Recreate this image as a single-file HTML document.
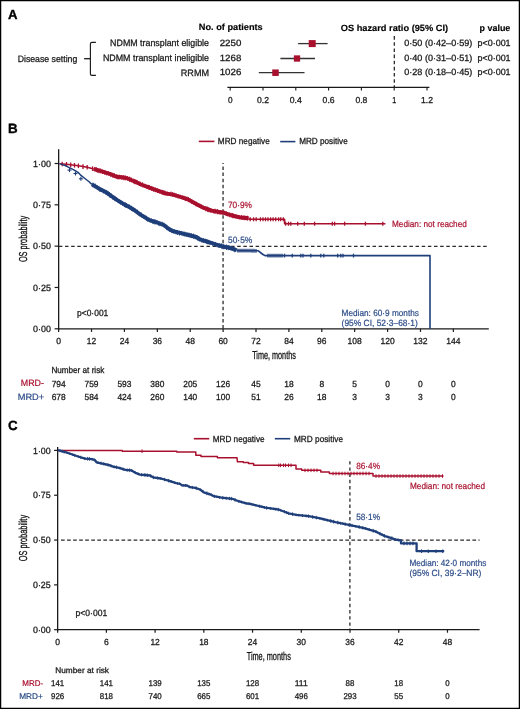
<!DOCTYPE html>
<html><head><meta charset="utf-8"><style>
html,body{margin:0;padding:0;background:#fff;}
svg{display:block;font-family:"Liberation Sans",sans-serif;will-change:transform;text-rendering:geometricPrecision;}
</style></head><body>
<svg width="520" height="709" viewBox="0 0 520 709">
<rect x="0.6" y="0.6" width="518.8" height="707.8" fill="none" stroke="#000" stroke-width="1.3"/>
<text x="7.9" y="19.3" font-size="13.2" font-weight="bold" fill="#000" stroke="#000" stroke-width="0.35">A</text>
<text x="198.80" y="30.35" font-size="9.0" fill="#000" font-weight="bold" textLength="63.90" lengthAdjust="spacingAndGlyphs" stroke="#000" stroke-width="0.15">No. of patients</text>
<text x="340.80" y="30.75" font-size="9.0" fill="#000" font-weight="bold" textLength="107.30" lengthAdjust="spacingAndGlyphs" stroke="#000" stroke-width="0.15">OS hazard ratio (95% CI)</text>
<text x="479.60" y="30.65" font-size="9.0" fill="#000" font-weight="bold" textLength="30.70" lengthAdjust="spacingAndGlyphs" stroke="#000" stroke-width="0.15">p value</text>
<text x="17.70" y="61.92" font-size="9.2" fill="#1a1a1a" font-weight="normal" textLength="59.60" lengthAdjust="spacingAndGlyphs" stroke="#1a1a1a" stroke-width="0.28">Disease setting</text>
<path d="M95.9,42.4 H92.0 Q90.4,42.4 90.4,44.0 V73.7 Q90.4,75.3 92.0,75.3 H95.9" fill="none" stroke="#1a1a1a" stroke-width="1.15"/>
<line x1="84.10" y1="58.70" x2="90.40" y2="58.70" stroke="#1a1a1a" stroke-width="1.3"/>
<text x="110.10" y="46.09" font-size="9.4" fill="#1a1a1a" font-weight="normal" textLength="98.90" lengthAdjust="spacingAndGlyphs" stroke="#1a1a1a" stroke-width="0.28">NDMM transplant eligible</text>
<text x="219.70" y="45.95" font-size="9.0" fill="#1a1a1a" font-weight="normal" textLength="21.60" lengthAdjust="spacingAndGlyphs" stroke="#1a1a1a" stroke-width="0.28">2250</text>
<text x="404.20" y="45.95" font-size="9.0" fill="#1a1a1a" font-weight="normal" textLength="68.20" lengthAdjust="spacingAndGlyphs" stroke="#1a1a1a" stroke-width="0.28">0·50 (0·42–0·59)</text>
<text x="477.50" y="45.95" font-size="9.0" fill="#1a1a1a" font-weight="normal" textLength="33.10" lengthAdjust="spacingAndGlyphs" stroke="#1a1a1a" stroke-width="0.28">p&lt;0·001</text>
<text x="102.90" y="61.09" font-size="9.4" fill="#1a1a1a" font-weight="normal" textLength="106.10" lengthAdjust="spacingAndGlyphs" stroke="#1a1a1a" stroke-width="0.28">NDMM transplant ineligible</text>
<text x="219.70" y="60.95" font-size="9.0" fill="#1a1a1a" font-weight="normal" textLength="21.60" lengthAdjust="spacingAndGlyphs" stroke="#1a1a1a" stroke-width="0.28">1268</text>
<text x="404.20" y="60.95" font-size="9.0" fill="#1a1a1a" font-weight="normal" textLength="68.20" lengthAdjust="spacingAndGlyphs" stroke="#1a1a1a" stroke-width="0.28">0·40 (0·31–0·51)</text>
<text x="477.50" y="60.95" font-size="9.0" fill="#1a1a1a" font-weight="normal" textLength="33.10" lengthAdjust="spacingAndGlyphs" stroke="#1a1a1a" stroke-width="0.28">p&lt;0·001</text>
<text x="180.80" y="75.59" font-size="9.4" fill="#1a1a1a" font-weight="normal" textLength="28.20" lengthAdjust="spacingAndGlyphs" stroke="#1a1a1a" stroke-width="0.28">RRMM</text>
<text x="219.70" y="75.45" font-size="9.0" fill="#1a1a1a" font-weight="normal" textLength="21.60" lengthAdjust="spacingAndGlyphs" stroke="#1a1a1a" stroke-width="0.28">1026</text>
<text x="404.20" y="75.45" font-size="9.0" fill="#1a1a1a" font-weight="normal" textLength="68.20" lengthAdjust="spacingAndGlyphs" stroke="#1a1a1a" stroke-width="0.28">0·28 (0·18–0·45)</text>
<text x="477.50" y="75.45" font-size="9.0" fill="#1a1a1a" font-weight="normal" textLength="33.10" lengthAdjust="spacingAndGlyphs" stroke="#1a1a1a" stroke-width="0.28">p&lt;0·001</text>
<line x1="298.10" y1="43.60" x2="327.60" y2="43.60" stroke="#333" stroke-width="1.3"/>
<rect x="308.70" y="40.10" width="7.0" height="7.0" fill="#a8102e"/>
<line x1="280.40" y1="58.50" x2="315.00" y2="58.50" stroke="#333" stroke-width="1.3"/>
<rect x="293.85" y="55.35" width="6.3" height="6.3" fill="#a8102e"/>
<line x1="258.80" y1="72.70" x2="304.50" y2="72.70" stroke="#333" stroke-width="1.3"/>
<rect x="272.25" y="69.45" width="6.5" height="6.5" fill="#a8102e"/>
<line x1="227.40" y1="87.40" x2="429.40" y2="87.40" stroke="#1a1a1a" stroke-width="1.2"/>
<line x1="230.20" y1="87.40" x2="230.20" y2="90.60" stroke="#1a1a1a" stroke-width="1.1"/>
<text x="227.90" y="102.51" font-size="8.6" fill="#1a1a1a" font-weight="normal" textLength="4.60" lengthAdjust="spacingAndGlyphs" stroke="#1a1a1a" stroke-width="0.28">0</text>
<line x1="263.00" y1="87.40" x2="263.00" y2="90.60" stroke="#1a1a1a" stroke-width="1.1"/>
<text x="257.00" y="102.51" font-size="8.6" fill="#1a1a1a" font-weight="normal" textLength="12.00" lengthAdjust="spacingAndGlyphs" stroke="#1a1a1a" stroke-width="0.28">0.2</text>
<line x1="295.80" y1="87.40" x2="295.80" y2="90.60" stroke="#1a1a1a" stroke-width="1.1"/>
<text x="289.80" y="102.51" font-size="8.6" fill="#1a1a1a" font-weight="normal" textLength="12.00" lengthAdjust="spacingAndGlyphs" stroke="#1a1a1a" stroke-width="0.28">0.4</text>
<line x1="328.60" y1="87.40" x2="328.60" y2="90.60" stroke="#1a1a1a" stroke-width="1.1"/>
<text x="322.60" y="102.51" font-size="8.6" fill="#1a1a1a" font-weight="normal" textLength="12.00" lengthAdjust="spacingAndGlyphs" stroke="#1a1a1a" stroke-width="0.28">0.6</text>
<line x1="361.40" y1="87.40" x2="361.40" y2="90.60" stroke="#1a1a1a" stroke-width="1.1"/>
<text x="355.40" y="102.51" font-size="8.6" fill="#1a1a1a" font-weight="normal" textLength="12.00" lengthAdjust="spacingAndGlyphs" stroke="#1a1a1a" stroke-width="0.28">0.8</text>
<line x1="394.20" y1="87.40" x2="394.20" y2="90.60" stroke="#1a1a1a" stroke-width="1.1"/>
<text x="392.20" y="102.51" font-size="8.6" fill="#1a1a1a" font-weight="normal" textLength="4.00" lengthAdjust="spacingAndGlyphs" stroke="#1a1a1a" stroke-width="0.28">1</text>
<line x1="427.00" y1="87.40" x2="427.00" y2="90.60" stroke="#1a1a1a" stroke-width="1.1"/>
<text x="421.00" y="102.51" font-size="8.6" fill="#1a1a1a" font-weight="normal" textLength="12.00" lengthAdjust="spacingAndGlyphs" stroke="#1a1a1a" stroke-width="0.28">1.2</text>
<line x1="394.30" y1="36.10" x2="394.30" y2="87.30" stroke="#1a1a1a" stroke-width="1.2" stroke-dasharray="3.6 2.55"/>
<text x="8.1" y="132.9" font-size="13.4" font-weight="bold" fill="#000" stroke="#000" stroke-width="0.35">B</text>
<line x1="198.80" y1="141.40" x2="214.40" y2="141.40" stroke="#a8102e" stroke-width="1.6"/>
<text x="217.80" y="144.28" font-size="8.8" fill="#1a1a1a" font-weight="normal" textLength="52.00" lengthAdjust="spacingAndGlyphs" stroke="#1a1a1a" stroke-width="0.28">MRD negative</text>
<line x1="280.20" y1="141.60" x2="295.40" y2="141.60" stroke="#1f3f7a" stroke-width="1.6"/>
<text x="299.20" y="144.48" font-size="8.8" fill="#1a1a1a" font-weight="normal" textLength="48.50" lengthAdjust="spacingAndGlyphs" stroke="#1a1a1a" stroke-width="0.28">MRD positive</text>
<line x1="58.65" y1="149.20" x2="58.65" y2="329.40" stroke="#1a1a1a" stroke-width="1.3"/>
<line x1="58.00" y1="328.80" x2="488.80" y2="328.80" stroke="#1a1a1a" stroke-width="1.3"/>
<line x1="54.60" y1="163.50" x2="58.65" y2="163.50" stroke="#1a1a1a" stroke-width="1.2"/>
<text x="33.00" y="166.65" font-size="9.0" fill="#1a1a1a" font-weight="normal" textLength="17.90" lengthAdjust="spacingAndGlyphs" stroke="#1a1a1a" stroke-width="0.28">1·00</text>
<line x1="54.60" y1="204.82" x2="58.65" y2="204.82" stroke="#1a1a1a" stroke-width="1.2"/>
<text x="33.00" y="207.97" font-size="9.0" fill="#1a1a1a" font-weight="normal" textLength="17.90" lengthAdjust="spacingAndGlyphs" stroke="#1a1a1a" stroke-width="0.28">0·75</text>
<line x1="54.60" y1="246.15" x2="58.65" y2="246.15" stroke="#1a1a1a" stroke-width="1.2"/>
<text x="33.00" y="249.30" font-size="9.0" fill="#1a1a1a" font-weight="normal" textLength="17.90" lengthAdjust="spacingAndGlyphs" stroke="#1a1a1a" stroke-width="0.28">0·50</text>
<line x1="54.60" y1="287.48" x2="58.65" y2="287.48" stroke="#1a1a1a" stroke-width="1.2"/>
<text x="33.00" y="290.62" font-size="9.0" fill="#1a1a1a" font-weight="normal" textLength="17.90" lengthAdjust="spacingAndGlyphs" stroke="#1a1a1a" stroke-width="0.28">0·25</text>
<line x1="54.60" y1="328.80" x2="58.65" y2="328.80" stroke="#1a1a1a" stroke-width="1.2"/>
<text x="33.00" y="331.95" font-size="9.0" fill="#1a1a1a" font-weight="normal" textLength="17.90" lengthAdjust="spacingAndGlyphs" stroke="#1a1a1a" stroke-width="0.28">0·00</text>
<line x1="58.65" y1="328.80" x2="58.65" y2="331.90" stroke="#1a1a1a" stroke-width="1.2"/>
<text x="56.25" y="344.38" font-size="8.8" fill="#1a1a1a" font-weight="normal" textLength="4.80" lengthAdjust="spacingAndGlyphs" stroke="#1a1a1a" stroke-width="0.28">0</text>
<line x1="91.54" y1="328.80" x2="91.54" y2="331.90" stroke="#1a1a1a" stroke-width="1.2"/>
<text x="86.84" y="344.38" font-size="8.8" fill="#1a1a1a" font-weight="normal" textLength="9.40" lengthAdjust="spacingAndGlyphs" stroke="#1a1a1a" stroke-width="0.28">12</text>
<line x1="124.43" y1="328.80" x2="124.43" y2="331.90" stroke="#1a1a1a" stroke-width="1.2"/>
<text x="119.73" y="344.38" font-size="8.8" fill="#1a1a1a" font-weight="normal" textLength="9.40" lengthAdjust="spacingAndGlyphs" stroke="#1a1a1a" stroke-width="0.28">24</text>
<line x1="157.33" y1="328.80" x2="157.33" y2="331.90" stroke="#1a1a1a" stroke-width="1.2"/>
<text x="152.63" y="344.38" font-size="8.8" fill="#1a1a1a" font-weight="normal" textLength="9.40" lengthAdjust="spacingAndGlyphs" stroke="#1a1a1a" stroke-width="0.28">36</text>
<line x1="190.22" y1="328.80" x2="190.22" y2="331.90" stroke="#1a1a1a" stroke-width="1.2"/>
<text x="185.52" y="344.38" font-size="8.8" fill="#1a1a1a" font-weight="normal" textLength="9.40" lengthAdjust="spacingAndGlyphs" stroke="#1a1a1a" stroke-width="0.28">48</text>
<line x1="223.11" y1="328.80" x2="223.11" y2="331.90" stroke="#1a1a1a" stroke-width="1.2"/>
<text x="218.41" y="344.38" font-size="8.8" fill="#1a1a1a" font-weight="normal" textLength="9.40" lengthAdjust="spacingAndGlyphs" stroke="#1a1a1a" stroke-width="0.28">60</text>
<line x1="256.00" y1="328.80" x2="256.00" y2="331.90" stroke="#1a1a1a" stroke-width="1.2"/>
<text x="251.30" y="344.38" font-size="8.8" fill="#1a1a1a" font-weight="normal" textLength="9.40" lengthAdjust="spacingAndGlyphs" stroke="#1a1a1a" stroke-width="0.28">72</text>
<line x1="288.89" y1="328.80" x2="288.89" y2="331.90" stroke="#1a1a1a" stroke-width="1.2"/>
<text x="284.19" y="344.38" font-size="8.8" fill="#1a1a1a" font-weight="normal" textLength="9.40" lengthAdjust="spacingAndGlyphs" stroke="#1a1a1a" stroke-width="0.28">84</text>
<line x1="321.79" y1="328.80" x2="321.79" y2="331.90" stroke="#1a1a1a" stroke-width="1.2"/>
<text x="317.09" y="344.38" font-size="8.8" fill="#1a1a1a" font-weight="normal" textLength="9.40" lengthAdjust="spacingAndGlyphs" stroke="#1a1a1a" stroke-width="0.28">96</text>
<line x1="354.68" y1="328.80" x2="354.68" y2="331.90" stroke="#1a1a1a" stroke-width="1.2"/>
<text x="347.58" y="344.38" font-size="8.8" fill="#1a1a1a" font-weight="normal" textLength="14.20" lengthAdjust="spacingAndGlyphs" stroke="#1a1a1a" stroke-width="0.28">108</text>
<line x1="387.57" y1="328.80" x2="387.57" y2="331.90" stroke="#1a1a1a" stroke-width="1.2"/>
<text x="380.47" y="344.38" font-size="8.8" fill="#1a1a1a" font-weight="normal" textLength="14.20" lengthAdjust="spacingAndGlyphs" stroke="#1a1a1a" stroke-width="0.28">120</text>
<line x1="420.46" y1="328.80" x2="420.46" y2="331.90" stroke="#1a1a1a" stroke-width="1.2"/>
<text x="413.36" y="344.38" font-size="8.8" fill="#1a1a1a" font-weight="normal" textLength="14.20" lengthAdjust="spacingAndGlyphs" stroke="#1a1a1a" stroke-width="0.28">132</text>
<line x1="453.35" y1="328.80" x2="453.35" y2="331.90" stroke="#1a1a1a" stroke-width="1.2"/>
<text x="446.25" y="344.38" font-size="8.8" fill="#1a1a1a" font-weight="normal" textLength="14.20" lengthAdjust="spacingAndGlyphs" stroke="#1a1a1a" stroke-width="0.28">144</text>
<text x="252.20" y="358.60" font-size="11.5" fill="#111" font-weight="normal" textLength="43.60" lengthAdjust="spacingAndGlyphs" stroke="#111" stroke-width="0.3">Time, months</text>
<g transform="translate(27.4,262.1) rotate(-90)"><text x="0" y="0" font-size="11.5" fill="#111" stroke="#111" stroke-width="0.3" textLength="46.2" lengthAdjust="spacingAndGlyphs">OS probability</text></g>
<text x="77.00" y="316.15" font-size="9.0" fill="#1a1a1a" font-weight="normal" textLength="31.30" lengthAdjust="spacingAndGlyphs" stroke="#1a1a1a" stroke-width="0.28">p&lt;0·001</text>
<line x1="58.85" y1="246.30" x2="488.80" y2="246.30" stroke="#2a2a2a" stroke-width="1.3" stroke-dasharray="3.5 2.65"/>
<line x1="223.06" y1="163.1" x2="223.06" y2="328.8" stroke="#2a2a2a" stroke-width="1.3" stroke-dasharray="3.5 2.6" stroke-dashoffset="2.7"/>
<text x="228.00" y="208.25" font-size="9.0" fill="#a8102e" font-weight="normal" textLength="24.00" lengthAdjust="spacingAndGlyphs" stroke="#a8102e" stroke-width="0.2">70·9%</text>
<text x="228.00" y="242.55" font-size="9.0" fill="#2c4c88" font-weight="normal" textLength="24.30" lengthAdjust="spacingAndGlyphs" stroke="#2c4c88" stroke-width="0.2">50·5%</text>
<text x="392.00" y="227.35" font-size="9.0" fill="#a8102e" font-weight="normal" textLength="74.80" lengthAdjust="spacingAndGlyphs" stroke="#a8102e" stroke-width="0.2">Median: not reached</text>
<text x="341.60" y="316.25" font-size="9.0" fill="#2c4c88" font-weight="normal" textLength="77.30" lengthAdjust="spacingAndGlyphs" stroke="#2c4c88" stroke-width="0.2">Median: 60·9 months</text>
<text x="341.60" y="325.95" font-size="9.0" fill="#2c4c88" font-weight="normal" textLength="76.20" lengthAdjust="spacingAndGlyphs" stroke="#2c4c88" stroke-width="0.2">(95% CI, 52·3–68·1)</text>
<text x="51.40" y="372.88" font-size="8.8" fill="#1a1a1a" font-weight="normal" textLength="52.90" lengthAdjust="spacingAndGlyphs" stroke="#1a1a1a" stroke-width="0.28">Number at risk</text>
<text x="20.80" y="386.42" font-size="9.2" fill="#a8102e" font-weight="normal" textLength="23.20" lengthAdjust="spacingAndGlyphs" stroke="#a8102e" stroke-width="0.2">MRD-</text>
<text x="17.70" y="399.72" font-size="9.2" fill="#2c4c88" font-weight="normal" textLength="26.50" lengthAdjust="spacingAndGlyphs" stroke="#2c4c88" stroke-width="0.2">MRD+</text>
<text x="51.65" y="386.58" font-size="8.8" fill="#1a1a1a" font-weight="normal" textLength="14.00" lengthAdjust="spacingAndGlyphs" stroke="#1a1a1a" stroke-width="0.28">794</text>
<text x="51.65" y="400.28" font-size="8.8" fill="#1a1a1a" font-weight="normal" textLength="14.00" lengthAdjust="spacingAndGlyphs" stroke="#1a1a1a" stroke-width="0.28">678</text>
<text x="84.54" y="386.58" font-size="8.8" fill="#1a1a1a" font-weight="normal" textLength="14.00" lengthAdjust="spacingAndGlyphs" stroke="#1a1a1a" stroke-width="0.28">759</text>
<text x="84.54" y="400.28" font-size="8.8" fill="#1a1a1a" font-weight="normal" textLength="14.00" lengthAdjust="spacingAndGlyphs" stroke="#1a1a1a" stroke-width="0.28">584</text>
<text x="117.43" y="386.58" font-size="8.8" fill="#1a1a1a" font-weight="normal" textLength="14.00" lengthAdjust="spacingAndGlyphs" stroke="#1a1a1a" stroke-width="0.28">593</text>
<text x="117.43" y="400.28" font-size="8.8" fill="#1a1a1a" font-weight="normal" textLength="14.00" lengthAdjust="spacingAndGlyphs" stroke="#1a1a1a" stroke-width="0.28">424</text>
<text x="150.33" y="386.58" font-size="8.8" fill="#1a1a1a" font-weight="normal" textLength="14.00" lengthAdjust="spacingAndGlyphs" stroke="#1a1a1a" stroke-width="0.28">380</text>
<text x="150.33" y="400.28" font-size="8.8" fill="#1a1a1a" font-weight="normal" textLength="14.00" lengthAdjust="spacingAndGlyphs" stroke="#1a1a1a" stroke-width="0.28">260</text>
<text x="183.22" y="386.58" font-size="8.8" fill="#1a1a1a" font-weight="normal" textLength="14.00" lengthAdjust="spacingAndGlyphs" stroke="#1a1a1a" stroke-width="0.28">205</text>
<text x="183.22" y="400.28" font-size="8.8" fill="#1a1a1a" font-weight="normal" textLength="14.00" lengthAdjust="spacingAndGlyphs" stroke="#1a1a1a" stroke-width="0.28">140</text>
<text x="216.11" y="386.58" font-size="8.8" fill="#1a1a1a" font-weight="normal" textLength="14.00" lengthAdjust="spacingAndGlyphs" stroke="#1a1a1a" stroke-width="0.28">126</text>
<text x="216.11" y="400.28" font-size="8.8" fill="#1a1a1a" font-weight="normal" textLength="14.00" lengthAdjust="spacingAndGlyphs" stroke="#1a1a1a" stroke-width="0.28">100</text>
<text x="251.30" y="386.58" font-size="8.8" fill="#1a1a1a" font-weight="normal" textLength="9.40" lengthAdjust="spacingAndGlyphs" stroke="#1a1a1a" stroke-width="0.28">45</text>
<text x="251.30" y="400.28" font-size="8.8" fill="#1a1a1a" font-weight="normal" textLength="9.40" lengthAdjust="spacingAndGlyphs" stroke="#1a1a1a" stroke-width="0.28">51</text>
<text x="284.19" y="386.58" font-size="8.8" fill="#1a1a1a" font-weight="normal" textLength="9.40" lengthAdjust="spacingAndGlyphs" stroke="#1a1a1a" stroke-width="0.28">18</text>
<text x="284.19" y="400.28" font-size="8.8" fill="#1a1a1a" font-weight="normal" textLength="9.40" lengthAdjust="spacingAndGlyphs" stroke="#1a1a1a" stroke-width="0.28">26</text>
<text x="319.44" y="386.58" font-size="8.8" fill="#1a1a1a" font-weight="normal" textLength="4.70" lengthAdjust="spacingAndGlyphs" stroke="#1a1a1a" stroke-width="0.28">8</text>
<text x="317.09" y="400.28" font-size="8.8" fill="#1a1a1a" font-weight="normal" textLength="9.40" lengthAdjust="spacingAndGlyphs" stroke="#1a1a1a" stroke-width="0.28">18</text>
<text x="352.33" y="386.58" font-size="8.8" fill="#1a1a1a" font-weight="normal" textLength="4.70" lengthAdjust="spacingAndGlyphs" stroke="#1a1a1a" stroke-width="0.28">5</text>
<text x="352.33" y="400.28" font-size="8.8" fill="#1a1a1a" font-weight="normal" textLength="4.70" lengthAdjust="spacingAndGlyphs" stroke="#1a1a1a" stroke-width="0.28">3</text>
<text x="385.22" y="386.58" font-size="8.8" fill="#1a1a1a" font-weight="normal" textLength="4.70" lengthAdjust="spacingAndGlyphs" stroke="#1a1a1a" stroke-width="0.28">0</text>
<text x="385.22" y="400.28" font-size="8.8" fill="#1a1a1a" font-weight="normal" textLength="4.70" lengthAdjust="spacingAndGlyphs" stroke="#1a1a1a" stroke-width="0.28">3</text>
<text x="418.11" y="386.58" font-size="8.8" fill="#1a1a1a" font-weight="normal" textLength="4.70" lengthAdjust="spacingAndGlyphs" stroke="#1a1a1a" stroke-width="0.28">0</text>
<text x="418.11" y="400.28" font-size="8.8" fill="#1a1a1a" font-weight="normal" textLength="4.70" lengthAdjust="spacingAndGlyphs" stroke="#1a1a1a" stroke-width="0.28">3</text>
<text x="451.00" y="386.58" font-size="8.8" fill="#1a1a1a" font-weight="normal" textLength="4.70" lengthAdjust="spacingAndGlyphs" stroke="#1a1a1a" stroke-width="0.28">0</text>
<text x="451.00" y="400.28" font-size="8.8" fill="#1a1a1a" font-weight="normal" textLength="4.70" lengthAdjust="spacingAndGlyphs" stroke="#1a1a1a" stroke-width="0.28">0</text>
<path d="M59.50,163.70 L66.50,164.30 L78.40,165.80 L87.20,167.30 L93.70,168.90" fill="none" stroke="#a8102e" stroke-width="1.5" stroke-linejoin="round" stroke-linecap="butt"/>
<line x1="62.20" y1="161.63" x2="62.20" y2="166.23" stroke="#a8102e" stroke-width="1.3"/>
<line x1="66.50" y1="162.00" x2="66.50" y2="166.60" stroke="#a8102e" stroke-width="1.3"/>
<line x1="70.70" y1="162.53" x2="70.70" y2="167.13" stroke="#a8102e" stroke-width="1.3"/>
<line x1="74.50" y1="163.01" x2="74.50" y2="167.61" stroke="#a8102e" stroke-width="1.3"/>
<line x1="78.40" y1="163.50" x2="78.40" y2="168.10" stroke="#a8102e" stroke-width="1.3"/>
<line x1="83.00" y1="164.28" x2="83.00" y2="168.88" stroke="#a8102e" stroke-width="1.3"/>
<line x1="87.20" y1="165.00" x2="87.20" y2="169.60" stroke="#a8102e" stroke-width="1.3"/>
<line x1="92.60" y1="166.33" x2="92.60" y2="170.93" stroke="#a8102e" stroke-width="1.3"/>
<path d="M93.70,168.90 L101.80,171.40 L109.80,173.90 L116.60,176.80 L121.50,177.30 L126.00,178.00 L130.00,179.40 L134.00,181.30 L137.00,182.40 L140.40,184.20 L151.90,188.60 L157.70,190.70 L165.40,193.30 L173.00,194.60 L180.80,197.00 L188.50,199.60 L196.20,204.00 L203.80,207.90 L211.50,210.70 L219.20,212.00 L222.90,212.40 L226.90,213.80 L233.60,215.90 L240.40,217.50 L248.70,218.20" fill="none" stroke="#a8102e" stroke-width="3.9" stroke-linejoin="round" stroke-linecap="butt"/>
<path d="M95.00,167.21 V171.64 M96.52,167.39 V172.17 M97.61,168.20 V172.68 M98.97,168.44 V173.22 M100.63,168.47 V173.32 M102.53,169.61 V174.03 M104.74,170.00 V174.81 M106.68,170.97 V175.43 M108.51,171.36 V175.42 M110.72,172.01 V176.77 M112.95,172.77 V177.88 M114.50,173.37 V178.16 M116.81,174.22 V178.80 M118.00,174.87 V179.62 M119.61,174.71 V179.25 M121.32,175.07 V179.46 M123.14,175.19 V180.18 M125.10,175.22 V180.44 M127.49,176.08 V180.55 M129.69,176.62 V181.92 M131.49,177.64 V182.18 M133.65,178.78 V183.26 M134.74,178.99 V184.26 M135.86,179.44 V184.21 M137.08,180.30 V184.96 M139.30,181.68 V186.01 M140.36,181.70 V186.34 M142.59,182.35 V187.34 M144.99,183.81 V187.92 M146.83,184.74 V188.72 M148.40,184.87 V189.29 M149.46,185.07 V189.82 M151.80,185.95 V190.77 M153.45,186.84 V191.58 M155.28,187.48 V192.22 M157.60,188.36 V192.91 M159.61,189.25 V193.49 M161.98,189.83 V194.48 M162.99,190.25 V194.85 M164.02,190.44 V195.24 M165.10,190.80 V195.47 M167.06,191.40 V196.05 M169.09,192.01 V195.88 M171.04,191.59 V196.36 M172.67,192.17 V196.70 M174.18,192.81 V197.16 M176.02,193.39 V197.73 M178.10,194.25 V198.52 M180.13,194.65 V198.87 M182.25,195.40 V199.54 M183.86,195.58 V200.02 M185.31,196.36 V201.09 M186.93,196.48 V201.10 M188.40,197.15 V202.17 M190.03,198.39 V202.47 M191.77,199.42 V204.02 M193.95,200.66 V204.83 M196.08,201.52 V206.47 M197.56,202.69 V206.83 M199.67,203.66 V207.96 M201.25,204.36 V208.82 M203.54,205.74 V209.67 M205.86,206.05 V211.34 M207.47,206.58 V211.88 M208.78,207.22 V212.28 M210.71,208.10 V212.54 M212.19,208.73 V212.77 M214.01,208.99 V213.67 M215.08,208.68 V213.76 M217.37,209.07 V214.31 M219.18,210.09 V214.49 M220.42,209.99 V214.56 M222.15,210.09 V214.97 M224.01,210.62 V214.89 M226.22,211.28 V216.09 M227.71,212.00 V216.38 M229.85,212.69 V217.26 M232.14,212.90 V218.00 M233.15,213.36 V218.35 M234.22,213.93 V218.16 M235.96,214.22 V218.73 M238.05,215.05 V218.89 M239.23,215.22 V219.18 M241.59,215.02 V219.57 M243.29,215.59 V219.90 M244.78,215.45 V220.24 M246.29,215.94 V220.16 M247.46,215.75 V220.57" stroke="#a8102e" stroke-width="1.0" fill="none"/>
<path d="M248.70,218.40 L249.50,219.30 L284.60,219.30 L284.60,223.70 L385.40,223.70" fill="none" stroke="#a8102e" stroke-width="1.6" stroke-linejoin="round" stroke-linecap="butt"/>
<line x1="250.20" y1="217.30" x2="250.20" y2="221.30" stroke="#a8102e" stroke-width="1.3"/>
<line x1="253.60" y1="217.30" x2="253.60" y2="221.30" stroke="#a8102e" stroke-width="1.3"/>
<line x1="256.20" y1="217.30" x2="256.20" y2="221.30" stroke="#a8102e" stroke-width="1.3"/>
<line x1="260.40" y1="217.30" x2="260.40" y2="221.30" stroke="#a8102e" stroke-width="1.3"/>
<line x1="263.00" y1="217.30" x2="263.00" y2="221.30" stroke="#a8102e" stroke-width="1.3"/>
<line x1="265.50" y1="217.30" x2="265.50" y2="221.30" stroke="#a8102e" stroke-width="1.3"/>
<line x1="268.00" y1="217.30" x2="268.00" y2="221.30" stroke="#a8102e" stroke-width="1.3"/>
<line x1="270.60" y1="217.30" x2="270.60" y2="221.30" stroke="#a8102e" stroke-width="1.3"/>
<line x1="273.10" y1="217.30" x2="273.10" y2="221.30" stroke="#a8102e" stroke-width="1.3"/>
<line x1="275.70" y1="217.30" x2="275.70" y2="221.30" stroke="#a8102e" stroke-width="1.3"/>
<line x1="278.60" y1="217.30" x2="278.60" y2="221.30" stroke="#a8102e" stroke-width="1.3"/>
<line x1="280.70" y1="217.30" x2="280.70" y2="221.30" stroke="#a8102e" stroke-width="1.3"/>
<line x1="283.30" y1="217.30" x2="283.30" y2="221.30" stroke="#a8102e" stroke-width="1.3"/>
<line x1="285.60" y1="221.70" x2="285.60" y2="225.70" stroke="#a8102e" stroke-width="1.3"/>
<line x1="288.50" y1="221.70" x2="288.50" y2="225.70" stroke="#a8102e" stroke-width="1.3"/>
<line x1="290.80" y1="221.70" x2="290.80" y2="225.70" stroke="#a8102e" stroke-width="1.3"/>
<line x1="297.70" y1="221.70" x2="297.70" y2="225.70" stroke="#a8102e" stroke-width="1.3"/>
<line x1="304.30" y1="221.70" x2="304.30" y2="225.70" stroke="#a8102e" stroke-width="1.3"/>
<line x1="314.60" y1="221.70" x2="314.60" y2="225.70" stroke="#a8102e" stroke-width="1.3"/>
<line x1="332.30" y1="221.70" x2="332.30" y2="225.70" stroke="#a8102e" stroke-width="1.3"/>
<line x1="334.60" y1="221.70" x2="334.60" y2="225.70" stroke="#a8102e" stroke-width="1.3"/>
<line x1="344.60" y1="221.70" x2="344.60" y2="225.70" stroke="#a8102e" stroke-width="1.3"/>
<line x1="365.40" y1="221.70" x2="365.40" y2="225.70" stroke="#a8102e" stroke-width="1.3"/>
<line x1="382.80" y1="221.70" x2="382.80" y2="225.70" stroke="#a8102e" stroke-width="1.3"/>
<path d="M59.50,163.60 L65.70,165.80 L73.40,169.60 L78.00,172.30 L81.00,175.40 L84.90,178.50 L88.80,181.50 L91.80,184.40" fill="none" stroke="#1f3f7a" stroke-width="1.5" stroke-linejoin="round" stroke-linecap="butt"/>
<line x1="67.50" y1="170.10" x2="71.50" y2="170.10" stroke="#1f3f7a" stroke-width="1.1"/>
<line x1="69.50" y1="168.10" x2="69.50" y2="172.10" stroke="#1f3f7a" stroke-width="1.1"/>
<line x1="73.50" y1="173.50" x2="77.50" y2="173.50" stroke="#1f3f7a" stroke-width="1.1"/>
<line x1="75.50" y1="171.50" x2="75.50" y2="175.50" stroke="#1f3f7a" stroke-width="1.1"/>
<line x1="78.90" y1="178.80" x2="82.90" y2="178.80" stroke="#1f3f7a" stroke-width="1.1"/>
<line x1="80.90" y1="176.80" x2="80.90" y2="180.80" stroke="#1f3f7a" stroke-width="1.1"/>
<path d="M91.80,184.40 L96.40,186.90 L100.00,189.30 L105.80,192.10 L111.50,196.20 L117.30,200.20 L123.10,203.70 L128.80,206.80 L134.60,210.20 L140.40,214.60 L146.20,218.10 L150.00,220.40 L157.70,222.70 L163.80,225.00 L168.50,228.80 L173.00,231.20 L180.80,233.20 L188.50,235.00 L196.20,237.00 L200.00,239.50 L203.80,240.70 L211.50,243.00 L219.20,245.50 L222.90,246.40 L226.90,247.30 L230.00,247.80 L233.60,249.10 L236.70,250.30" fill="none" stroke="#1f3f7a" stroke-width="3.9" stroke-linejoin="round" stroke-linecap="butt"/>
<path d="M93.00,182.65 V187.55 M95.11,183.55 V188.69 M97.40,185.65 V189.84 M99.73,186.70 V191.74 M100.88,187.45 V191.82 M102.64,188.22 V192.49 M103.95,189.08 V193.84 M106.02,190.23 V194.80 M107.21,190.72 V195.12 M108.22,191.24 V195.91 M109.52,192.09 V197.37 M110.92,193.12 V198.12 M112.87,195.08 V199.80 M114.84,195.83 V201.12 M116.26,197.29 V201.51 M117.46,198.35 V202.44 M119.31,199.51 V203.85 M120.78,200.15 V204.85 M122.45,201.16 V205.59 M124.44,202.48 V207.11 M125.47,202.49 V207.57 M126.50,203.02 V207.74 M128.31,204.62 V208.47 M129.56,204.58 V209.30 M131.62,205.81 V211.11 M133.10,207.14 V211.64 M135.19,208.66 V213.14 M137.30,209.66 V214.18 M139.63,212.04 V216.19 M141.48,212.62 V217.42 M143.77,214.30 V218.79 M145.22,215.47 V219.47 M146.43,215.79 V220.93 M147.65,217.04 V221.67 M149.40,217.81 V222.13 M151.23,218.21 V223.03 M152.82,219.30 V223.88 M153.87,219.26 V224.13 M155.05,219.42 V224.57 M156.93,219.94 V224.46 M158.54,221.00 V225.59 M159.95,221.29 V226.25 M162.15,221.70 V226.64 M163.83,222.54 V227.31 M165.24,223.94 V228.18 M166.77,224.71 V230.07 M168.64,226.58 V231.05 M169.77,227.36 V232.00 M171.98,228.47 V233.19 M174.07,229.02 V233.90 M176.13,229.81 V234.47 M177.52,230.07 V234.88 M179.49,230.73 V235.52 M181.40,230.98 V235.25 M183.17,231.65 V236.19 M184.82,231.59 V236.56 M186.93,232.46 V237.05 M188.96,232.56 V237.30 M191.14,233.09 V238.14 M193.51,233.64 V238.62 M195.25,234.72 V239.32 M197.56,235.62 V240.35 M199.57,236.73 V241.26 M201.66,237.66 V242.46 M203.25,238.13 V243.05 M205.15,238.63 V243.02 M206.37,239.21 V243.89 M207.68,239.41 V244.26 M208.73,239.90 V244.26 M209.81,240.49 V244.65 M211.06,240.82 V244.80 M212.72,241.19 V245.78 M214.54,241.90 V246.61 M215.54,242.09 V246.44 M217.12,242.83 V247.39 M218.64,243.39 V247.71 M219.77,243.30 V247.81 M221.59,243.41 V248.64 M223.17,243.91 V248.88 M224.69,244.79 V249.18 M226.48,244.54 V249.88 M228.33,245.35 V250.15 M229.33,245.71 V250.05 M231.19,246.22 V250.64 M233.44,246.84 V251.29 M234.76,247.42 V252.23" stroke="#1f3f7a" stroke-width="1.0" fill="none"/>
<path d="M236.70,250.60 L258.30,250.80 L263.00,254.50 L265.00,255.60 L430.00,255.60 L430.00,328.80" fill="none" stroke="#1f3f7a" stroke-width="1.6" stroke-linejoin="round" stroke-linecap="butt"/>
<line x1="238.00" y1="248.71" x2="238.00" y2="252.51" stroke="#1f3f7a" stroke-width="1.3"/>
<line x1="240.00" y1="248.73" x2="240.00" y2="252.53" stroke="#1f3f7a" stroke-width="1.3"/>
<line x1="242.00" y1="248.75" x2="242.00" y2="252.55" stroke="#1f3f7a" stroke-width="1.3"/>
<line x1="244.00" y1="248.77" x2="244.00" y2="252.57" stroke="#1f3f7a" stroke-width="1.3"/>
<line x1="246.00" y1="248.79" x2="246.00" y2="252.59" stroke="#1f3f7a" stroke-width="1.3"/>
<line x1="248.00" y1="248.80" x2="248.00" y2="252.60" stroke="#1f3f7a" stroke-width="1.3"/>
<line x1="250.00" y1="248.82" x2="250.00" y2="252.62" stroke="#1f3f7a" stroke-width="1.3"/>
<line x1="252.00" y1="248.84" x2="252.00" y2="252.64" stroke="#1f3f7a" stroke-width="1.3"/>
<line x1="254.00" y1="248.86" x2="254.00" y2="252.66" stroke="#1f3f7a" stroke-width="1.3"/>
<line x1="256.00" y1="248.88" x2="256.00" y2="252.68" stroke="#1f3f7a" stroke-width="1.3"/>
<line x1="268.00" y1="253.70" x2="268.00" y2="257.50" stroke="#1f3f7a" stroke-width="1.3"/>
<line x1="270.00" y1="253.70" x2="270.00" y2="257.50" stroke="#1f3f7a" stroke-width="1.3"/>
<line x1="272.00" y1="253.70" x2="272.00" y2="257.50" stroke="#1f3f7a" stroke-width="1.3"/>
<line x1="274.00" y1="253.70" x2="274.00" y2="257.50" stroke="#1f3f7a" stroke-width="1.3"/>
<line x1="276.00" y1="253.70" x2="276.00" y2="257.50" stroke="#1f3f7a" stroke-width="1.3"/>
<line x1="278.00" y1="253.70" x2="278.00" y2="257.50" stroke="#1f3f7a" stroke-width="1.3"/>
<line x1="280.00" y1="253.70" x2="280.00" y2="257.50" stroke="#1f3f7a" stroke-width="1.3"/>
<line x1="282.00" y1="253.70" x2="282.00" y2="257.50" stroke="#1f3f7a" stroke-width="1.3"/>
<line x1="284.50" y1="253.70" x2="284.50" y2="257.50" stroke="#1f3f7a" stroke-width="1.3"/>
<line x1="292.30" y1="253.70" x2="292.30" y2="257.50" stroke="#1f3f7a" stroke-width="1.3"/>
<line x1="300.80" y1="253.70" x2="300.80" y2="257.50" stroke="#1f3f7a" stroke-width="1.3"/>
<line x1="303.00" y1="253.70" x2="303.00" y2="257.50" stroke="#1f3f7a" stroke-width="1.3"/>
<line x1="310.80" y1="253.70" x2="310.80" y2="257.50" stroke="#1f3f7a" stroke-width="1.3"/>
<line x1="320.80" y1="253.70" x2="320.80" y2="257.50" stroke="#1f3f7a" stroke-width="1.3"/>
<line x1="323.80" y1="253.70" x2="323.80" y2="257.50" stroke="#1f3f7a" stroke-width="1.3"/>
<line x1="337.70" y1="253.70" x2="337.70" y2="257.50" stroke="#1f3f7a" stroke-width="1.3"/>
<line x1="340.80" y1="253.70" x2="340.80" y2="257.50" stroke="#1f3f7a" stroke-width="1.3"/>
<line x1="343.00" y1="253.70" x2="343.00" y2="257.50" stroke="#1f3f7a" stroke-width="1.3"/>
<line x1="353.50" y1="253.70" x2="353.50" y2="257.50" stroke="#1f3f7a" stroke-width="1.3"/>
<text x="7.9" y="430.4" font-size="13.4" font-weight="bold" fill="#000" stroke="#000" stroke-width="0.35">C</text>
<line x1="193.80" y1="438.70" x2="209.20" y2="438.70" stroke="#a8102e" stroke-width="1.6"/>
<text x="212.70" y="441.78" font-size="8.8" fill="#1a1a1a" font-weight="normal" textLength="51.90" lengthAdjust="spacingAndGlyphs" stroke="#1a1a1a" stroke-width="0.28">MRD negative</text>
<line x1="274.80" y1="438.70" x2="290.20" y2="438.70" stroke="#1f3f7a" stroke-width="1.6"/>
<text x="294.00" y="441.98" font-size="8.8" fill="#1a1a1a" font-weight="normal" textLength="49.00" lengthAdjust="spacingAndGlyphs" stroke="#1a1a1a" stroke-width="0.28">MRD positive</text>
<line x1="57.65" y1="447.10" x2="57.65" y2="630.30" stroke="#1a1a1a" stroke-width="1.3"/>
<line x1="57.00" y1="629.70" x2="479.60" y2="629.70" stroke="#1a1a1a" stroke-width="1.3"/>
<line x1="54.10" y1="450.40" x2="57.65" y2="450.40" stroke="#1a1a1a" stroke-width="1.2"/>
<text x="33.00" y="453.55" font-size="9.0" fill="#1a1a1a" font-weight="normal" textLength="17.70" lengthAdjust="spacingAndGlyphs" stroke="#1a1a1a" stroke-width="0.28">1·00</text>
<line x1="54.10" y1="495.23" x2="57.65" y2="495.23" stroke="#1a1a1a" stroke-width="1.2"/>
<text x="33.00" y="498.38" font-size="9.0" fill="#1a1a1a" font-weight="normal" textLength="17.70" lengthAdjust="spacingAndGlyphs" stroke="#1a1a1a" stroke-width="0.28">0·75</text>
<line x1="54.10" y1="540.05" x2="57.65" y2="540.05" stroke="#1a1a1a" stroke-width="1.2"/>
<text x="33.00" y="543.20" font-size="9.0" fill="#1a1a1a" font-weight="normal" textLength="17.70" lengthAdjust="spacingAndGlyphs" stroke="#1a1a1a" stroke-width="0.28">0·50</text>
<line x1="54.10" y1="584.88" x2="57.65" y2="584.88" stroke="#1a1a1a" stroke-width="1.2"/>
<text x="33.00" y="588.02" font-size="9.0" fill="#1a1a1a" font-weight="normal" textLength="17.70" lengthAdjust="spacingAndGlyphs" stroke="#1a1a1a" stroke-width="0.28">0·25</text>
<line x1="54.10" y1="629.70" x2="57.65" y2="629.70" stroke="#1a1a1a" stroke-width="1.2"/>
<text x="33.00" y="632.85" font-size="9.0" fill="#1a1a1a" font-weight="normal" textLength="17.70" lengthAdjust="spacingAndGlyphs" stroke="#1a1a1a" stroke-width="0.28">0·00</text>
<line x1="57.65" y1="629.70" x2="57.65" y2="632.70" stroke="#1a1a1a" stroke-width="1.2"/>
<text x="55.25" y="645.28" font-size="8.8" fill="#1a1a1a" font-weight="normal" textLength="4.80" lengthAdjust="spacingAndGlyphs" stroke="#1a1a1a" stroke-width="0.28">0</text>
<line x1="106.38" y1="629.70" x2="106.38" y2="632.70" stroke="#1a1a1a" stroke-width="1.2"/>
<text x="103.98" y="645.28" font-size="8.8" fill="#1a1a1a" font-weight="normal" textLength="4.80" lengthAdjust="spacingAndGlyphs" stroke="#1a1a1a" stroke-width="0.28">6</text>
<line x1="155.10" y1="629.70" x2="155.10" y2="632.70" stroke="#1a1a1a" stroke-width="1.2"/>
<text x="150.40" y="645.28" font-size="8.8" fill="#1a1a1a" font-weight="normal" textLength="9.40" lengthAdjust="spacingAndGlyphs" stroke="#1a1a1a" stroke-width="0.28">12</text>
<line x1="203.83" y1="629.70" x2="203.83" y2="632.70" stroke="#1a1a1a" stroke-width="1.2"/>
<text x="199.13" y="645.28" font-size="8.8" fill="#1a1a1a" font-weight="normal" textLength="9.40" lengthAdjust="spacingAndGlyphs" stroke="#1a1a1a" stroke-width="0.28">18</text>
<line x1="252.55" y1="629.70" x2="252.55" y2="632.70" stroke="#1a1a1a" stroke-width="1.2"/>
<text x="247.85" y="645.28" font-size="8.8" fill="#1a1a1a" font-weight="normal" textLength="9.40" lengthAdjust="spacingAndGlyphs" stroke="#1a1a1a" stroke-width="0.28">24</text>
<line x1="301.28" y1="629.70" x2="301.28" y2="632.70" stroke="#1a1a1a" stroke-width="1.2"/>
<text x="296.58" y="645.28" font-size="8.8" fill="#1a1a1a" font-weight="normal" textLength="9.40" lengthAdjust="spacingAndGlyphs" stroke="#1a1a1a" stroke-width="0.28">30</text>
<line x1="350.01" y1="629.70" x2="350.01" y2="632.70" stroke="#1a1a1a" stroke-width="1.2"/>
<text x="345.31" y="645.28" font-size="8.8" fill="#1a1a1a" font-weight="normal" textLength="9.40" lengthAdjust="spacingAndGlyphs" stroke="#1a1a1a" stroke-width="0.28">36</text>
<line x1="398.73" y1="629.70" x2="398.73" y2="632.70" stroke="#1a1a1a" stroke-width="1.2"/>
<text x="394.03" y="645.28" font-size="8.8" fill="#1a1a1a" font-weight="normal" textLength="9.40" lengthAdjust="spacingAndGlyphs" stroke="#1a1a1a" stroke-width="0.28">42</text>
<line x1="447.46" y1="629.70" x2="447.46" y2="632.70" stroke="#1a1a1a" stroke-width="1.2"/>
<text x="442.76" y="645.28" font-size="8.8" fill="#1a1a1a" font-weight="normal" textLength="9.40" lengthAdjust="spacingAndGlyphs" stroke="#1a1a1a" stroke-width="0.28">48</text>
<text x="246.70" y="659.70" font-size="11.5" fill="#111" font-weight="normal" textLength="44.10" lengthAdjust="spacingAndGlyphs" stroke="#111" stroke-width="0.3">Time, months</text>
<g transform="translate(26.8,561.3) rotate(-90)"><text x="0" y="0" font-size="11.5" fill="#111" stroke="#111" stroke-width="0.3" textLength="46.4" lengthAdjust="spacingAndGlyphs">OS probability</text></g>
<text x="75.50" y="616.45" font-size="9.0" fill="#1a1a1a" font-weight="normal" textLength="31.70" lengthAdjust="spacingAndGlyphs" stroke="#1a1a1a" stroke-width="0.28">p&lt;0·001</text>
<line x1="61.00" y1="540.10" x2="479.60" y2="540.10" stroke="#2a2a2a" stroke-width="1.3" stroke-dasharray="3.7 2.35"/>
<line x1="349.90" y1="461.20" x2="349.90" y2="629.70" stroke="#2a2a2a" stroke-width="1.3" stroke-dasharray="3.4 2.8"/>
<text x="356.20" y="468.55" font-size="9.0" fill="#a8102e" font-weight="normal" textLength="23.80" lengthAdjust="spacingAndGlyphs" stroke="#a8102e" stroke-width="0.2">86·4%</text>
<text x="356.20" y="520.35" font-size="9.0" fill="#2c4c88" font-weight="normal" textLength="23.80" lengthAdjust="spacingAndGlyphs" stroke="#2c4c88" stroke-width="0.2">58·1%</text>
<text x="410.00" y="489.35" font-size="9.0" fill="#a8102e" font-weight="normal" textLength="75.00" lengthAdjust="spacingAndGlyphs" stroke="#a8102e" stroke-width="0.2">Median: not reached</text>
<text x="409.40" y="566.15" font-size="9.0" fill="#2c4c88" font-weight="normal" textLength="76.90" lengthAdjust="spacingAndGlyphs" stroke="#2c4c88" stroke-width="0.2">Median: 42·0 months</text>
<text x="409.40" y="576.35" font-size="9.0" fill="#2c4c88" font-weight="normal" textLength="72.00" lengthAdjust="spacingAndGlyphs" stroke="#2c4c88" stroke-width="0.2">(95% CI, 39·2–NR)</text>
<text x="55.30" y="673.30" font-size="8.0" fill="#1a1a1a" font-weight="normal" textLength="53.70" lengthAdjust="spacingAndGlyphs" stroke="#1a1a1a" stroke-width="0.28">Number at risk</text>
<text x="22.30" y="685.97" font-size="8.2" fill="#a8102e" font-weight="normal" textLength="20.80" lengthAdjust="spacingAndGlyphs" stroke="#a8102e" stroke-width="0.2">MRD-</text>
<text x="19.20" y="698.87" font-size="8.2" fill="#2c4c88" font-weight="normal" textLength="23.60" lengthAdjust="spacingAndGlyphs" stroke="#2c4c88" stroke-width="0.2">MRD+</text>
<text x="51.05" y="686.04" font-size="8.4" fill="#1a1a1a" font-weight="normal" textLength="13.20" lengthAdjust="spacingAndGlyphs" stroke="#1a1a1a" stroke-width="0.28">141</text>
<text x="51.05" y="698.74" font-size="8.4" fill="#1a1a1a" font-weight="normal" textLength="13.20" lengthAdjust="spacingAndGlyphs" stroke="#1a1a1a" stroke-width="0.28">926</text>
<text x="99.78" y="686.04" font-size="8.4" fill="#1a1a1a" font-weight="normal" textLength="13.20" lengthAdjust="spacingAndGlyphs" stroke="#1a1a1a" stroke-width="0.28">141</text>
<text x="99.78" y="698.74" font-size="8.4" fill="#1a1a1a" font-weight="normal" textLength="13.20" lengthAdjust="spacingAndGlyphs" stroke="#1a1a1a" stroke-width="0.28">818</text>
<text x="148.50" y="686.04" font-size="8.4" fill="#1a1a1a" font-weight="normal" textLength="13.20" lengthAdjust="spacingAndGlyphs" stroke="#1a1a1a" stroke-width="0.28">139</text>
<text x="148.50" y="698.74" font-size="8.4" fill="#1a1a1a" font-weight="normal" textLength="13.20" lengthAdjust="spacingAndGlyphs" stroke="#1a1a1a" stroke-width="0.28">740</text>
<text x="197.23" y="686.04" font-size="8.4" fill="#1a1a1a" font-weight="normal" textLength="13.20" lengthAdjust="spacingAndGlyphs" stroke="#1a1a1a" stroke-width="0.28">135</text>
<text x="197.23" y="698.74" font-size="8.4" fill="#1a1a1a" font-weight="normal" textLength="13.20" lengthAdjust="spacingAndGlyphs" stroke="#1a1a1a" stroke-width="0.28">665</text>
<text x="245.95" y="686.04" font-size="8.4" fill="#1a1a1a" font-weight="normal" textLength="13.20" lengthAdjust="spacingAndGlyphs" stroke="#1a1a1a" stroke-width="0.28">128</text>
<text x="245.95" y="698.74" font-size="8.4" fill="#1a1a1a" font-weight="normal" textLength="13.20" lengthAdjust="spacingAndGlyphs" stroke="#1a1a1a" stroke-width="0.28">601</text>
<text x="294.68" y="686.04" font-size="8.4" fill="#1a1a1a" font-weight="normal" textLength="13.20" lengthAdjust="spacingAndGlyphs" stroke="#1a1a1a" stroke-width="0.28">111</text>
<text x="294.68" y="698.74" font-size="8.4" fill="#1a1a1a" font-weight="normal" textLength="13.20" lengthAdjust="spacingAndGlyphs" stroke="#1a1a1a" stroke-width="0.28">496</text>
<text x="345.61" y="686.04" font-size="8.4" fill="#1a1a1a" font-weight="normal" textLength="8.80" lengthAdjust="spacingAndGlyphs" stroke="#1a1a1a" stroke-width="0.28">88</text>
<text x="343.41" y="698.74" font-size="8.4" fill="#1a1a1a" font-weight="normal" textLength="13.20" lengthAdjust="spacingAndGlyphs" stroke="#1a1a1a" stroke-width="0.28">293</text>
<text x="394.33" y="686.04" font-size="8.4" fill="#1a1a1a" font-weight="normal" textLength="8.80" lengthAdjust="spacingAndGlyphs" stroke="#1a1a1a" stroke-width="0.28">18</text>
<text x="394.33" y="698.74" font-size="8.4" fill="#1a1a1a" font-weight="normal" textLength="8.80" lengthAdjust="spacingAndGlyphs" stroke="#1a1a1a" stroke-width="0.28">55</text>
<text x="445.26" y="686.04" font-size="8.4" fill="#1a1a1a" font-weight="normal" textLength="4.40" lengthAdjust="spacingAndGlyphs" stroke="#1a1a1a" stroke-width="0.28">0</text>
<text x="445.26" y="698.74" font-size="8.4" fill="#1a1a1a" font-weight="normal" textLength="4.40" lengthAdjust="spacingAndGlyphs" stroke="#1a1a1a" stroke-width="0.28">0</text>
<path d="M57.80,450.60 L122.30,450.60 L122.30,451.20 L176.70,451.20 L176.70,451.90 L195.80,451.90 L195.80,455.20 L201.00,455.20 L201.00,456.40 L217.40,456.40 L217.40,457.80 L237.00,457.80 L237.40,461.70 L243.30,461.70 L243.30,462.60 L248.50,462.60 L248.50,463.50 L253.60,463.50 L253.60,465.30 L296.00,465.30 L296.00,469.10 L301.70,469.10 L301.70,470.30 L320.80,470.30 L320.80,472.00 L329.40,472.00 L329.40,473.50 L373.00,473.50 L373.00,476.10 L443.50,476.10" fill="none" stroke="#a8102e" stroke-width="1.5" stroke-linejoin="round" stroke-linecap="butt"/>
<line x1="142.00" y1="449.40" x2="142.00" y2="453.00" stroke="#a8102e" stroke-width="1.0"/>
<line x1="278.80" y1="463.50" x2="278.80" y2="467.10" stroke="#a8102e" stroke-width="1.0"/>
<line x1="280.50" y1="463.50" x2="280.50" y2="467.10" stroke="#a8102e" stroke-width="1.0"/>
<line x1="283.50" y1="463.50" x2="283.50" y2="467.10" stroke="#a8102e" stroke-width="1.0"/>
<line x1="285.50" y1="463.50" x2="285.50" y2="467.10" stroke="#a8102e" stroke-width="1.0"/>
<line x1="288.50" y1="463.50" x2="288.50" y2="467.10" stroke="#a8102e" stroke-width="1.0"/>
<line x1="291.00" y1="463.50" x2="291.00" y2="467.10" stroke="#a8102e" stroke-width="1.0"/>
<line x1="305.00" y1="468.50" x2="305.00" y2="472.10" stroke="#a8102e" stroke-width="1.0"/>
<line x1="308.00" y1="468.50" x2="308.00" y2="472.10" stroke="#a8102e" stroke-width="1.0"/>
<line x1="311.00" y1="468.50" x2="311.00" y2="472.10" stroke="#a8102e" stroke-width="1.0"/>
<line x1="314.00" y1="468.50" x2="314.00" y2="472.10" stroke="#a8102e" stroke-width="1.0"/>
<line x1="317.00" y1="468.50" x2="317.00" y2="472.10" stroke="#a8102e" stroke-width="1.0"/>
<line x1="333.00" y1="471.70" x2="333.00" y2="475.30" stroke="#a8102e" stroke-width="1.0"/>
<line x1="336.00" y1="471.70" x2="336.00" y2="475.30" stroke="#a8102e" stroke-width="1.0"/>
<line x1="339.00" y1="471.70" x2="339.00" y2="475.30" stroke="#a8102e" stroke-width="1.0"/>
<line x1="342.00" y1="471.70" x2="342.00" y2="475.30" stroke="#a8102e" stroke-width="1.0"/>
<line x1="345.00" y1="471.70" x2="345.00" y2="475.30" stroke="#a8102e" stroke-width="1.0"/>
<line x1="348.00" y1="471.70" x2="348.00" y2="475.30" stroke="#a8102e" stroke-width="1.0"/>
<line x1="351.00" y1="471.70" x2="351.00" y2="475.30" stroke="#a8102e" stroke-width="1.0"/>
<line x1="354.00" y1="471.70" x2="354.00" y2="475.30" stroke="#a8102e" stroke-width="1.0"/>
<line x1="357.00" y1="471.70" x2="357.00" y2="475.30" stroke="#a8102e" stroke-width="1.0"/>
<line x1="360.00" y1="471.70" x2="360.00" y2="475.30" stroke="#a8102e" stroke-width="1.0"/>
<line x1="363.00" y1="471.70" x2="363.00" y2="475.30" stroke="#a8102e" stroke-width="1.0"/>
<line x1="366.00" y1="471.70" x2="366.00" y2="475.30" stroke="#a8102e" stroke-width="1.0"/>
<line x1="369.00" y1="471.70" x2="369.00" y2="475.30" stroke="#a8102e" stroke-width="1.0"/>
<line x1="376.00" y1="474.30" x2="376.00" y2="477.90" stroke="#a8102e" stroke-width="1.0"/>
<line x1="379.00" y1="474.30" x2="379.00" y2="477.90" stroke="#a8102e" stroke-width="1.0"/>
<line x1="382.00" y1="474.30" x2="382.00" y2="477.90" stroke="#a8102e" stroke-width="1.0"/>
<line x1="385.00" y1="474.30" x2="385.00" y2="477.90" stroke="#a8102e" stroke-width="1.0"/>
<line x1="388.00" y1="474.30" x2="388.00" y2="477.90" stroke="#a8102e" stroke-width="1.0"/>
<line x1="391.00" y1="474.30" x2="391.00" y2="477.90" stroke="#a8102e" stroke-width="1.0"/>
<line x1="394.00" y1="474.30" x2="394.00" y2="477.90" stroke="#a8102e" stroke-width="1.0"/>
<line x1="397.00" y1="474.30" x2="397.00" y2="477.90" stroke="#a8102e" stroke-width="1.0"/>
<line x1="400.00" y1="474.30" x2="400.00" y2="477.90" stroke="#a8102e" stroke-width="1.0"/>
<line x1="403.00" y1="474.30" x2="403.00" y2="477.90" stroke="#a8102e" stroke-width="1.0"/>
<line x1="406.00" y1="474.30" x2="406.00" y2="477.90" stroke="#a8102e" stroke-width="1.0"/>
<line x1="409.00" y1="474.30" x2="409.00" y2="477.90" stroke="#a8102e" stroke-width="1.0"/>
<line x1="412.00" y1="474.30" x2="412.00" y2="477.90" stroke="#a8102e" stroke-width="1.0"/>
<line x1="415.00" y1="474.30" x2="415.00" y2="477.90" stroke="#a8102e" stroke-width="1.0"/>
<line x1="418.00" y1="474.30" x2="418.00" y2="477.90" stroke="#a8102e" stroke-width="1.0"/>
<line x1="421.00" y1="474.30" x2="421.00" y2="477.90" stroke="#a8102e" stroke-width="1.0"/>
<line x1="424.00" y1="474.30" x2="424.00" y2="477.90" stroke="#a8102e" stroke-width="1.0"/>
<line x1="427.00" y1="474.30" x2="427.00" y2="477.90" stroke="#a8102e" stroke-width="1.0"/>
<line x1="430.00" y1="474.30" x2="430.00" y2="477.90" stroke="#a8102e" stroke-width="1.0"/>
<line x1="433.00" y1="474.30" x2="433.00" y2="477.90" stroke="#a8102e" stroke-width="1.0"/>
<line x1="436.00" y1="474.30" x2="436.00" y2="477.90" stroke="#a8102e" stroke-width="1.0"/>
<line x1="439.00" y1="474.30" x2="439.00" y2="477.90" stroke="#a8102e" stroke-width="1.0"/>
<line x1="442.50" y1="474.30" x2="442.50" y2="477.90" stroke="#a8102e" stroke-width="1.0"/>
<path d="M57.80,450.20 L66.50,452.50 L78.10,456.50 L85.00,458.60 L91.90,459.10 L94.80,460.00 L96.50,462.30 L103.50,463.80 L109.20,465.20 L113.00,466.60 L119.20,467.80 L125.40,469.90 L131.50,470.40 L136.20,473.20 L140.00,474.60 L145.00,475.00 L150.00,475.50 L153.00,477.30 L160.80,478.50 L168.50,480.70 L176.20,483.20 L180.00,483.80 L182.00,485.40 L187.00,485.50 L190.00,487.20 L195.40,487.90 L200.00,489.50 L203.80,492.30 L210.80,494.60 L213.80,496.20 L221.50,497.70 L232.30,498.80 L238.50,501.20 L246.20,503.40 L250.00,503.80 L265.40,507.70 L279.20,509.70 L288.50,513.30 L296.20,514.80 L308.50,516.20 L319.20,518.20 L335.40,522.10 L350.00,525.10 L358.50,526.80 L365.00,528.30 L370.00,529.90 L375.40,531.40 L380.00,533.70 L385.00,536.10 L390.00,537.60 L395.00,539.30 L401.00,540.50 L401.00,543.40 L416.60,543.40 L416.60,551.20 L444.20,551.20" fill="none" stroke="#1f3f7a" stroke-width="2.3" stroke-linejoin="round" stroke-linecap="butt"/>
<path d="M60.00,449.35 V452.21 M62.16,449.70 V453.01 M64.14,450.30 V453.45 M66.81,451.37 V453.85 M69.83,452.42 V454.88 M72.67,453.38 V455.88 M74.69,453.83 V456.82 M78.47,455.33 V457.90 M80.81,455.69 V458.96 M84.88,456.96 V460.17 M87.64,456.91 V460.67 M89.55,457.13 V460.73 M92.04,457.84 V460.45 M94.13,458.37 V461.21 M97.88,461.27 V463.92 M101.08,461.63 V464.93 M103.77,462.28 V465.45 M105.73,463.10 V465.59 M108.02,463.23 V466.59 M110.85,464.39 V467.23 M114.05,465.29 V468.32 M116.57,465.53 V469.05 M120.05,466.72 V469.46 M123.23,467.60 V470.73 M127.13,468.33 V471.75 M129.62,468.36 V472.13 M131.70,469.03 V472.01 M135.32,471.37 V473.98 M138.29,472.74 V475.20 M141.70,473.00 V476.47 M144.87,473.18 V476.80 M147.42,473.56 V476.93 M150.65,474.28 V477.50 M153.55,475.60 V479.17 M157.61,476.48 V479.54 M161.01,477.32 V479.80 M164.49,477.90 V481.21 M168.67,478.98 V482.53 M171.16,480.09 V483.03 M174.56,481.45 V483.88 M177.47,482.08 V484.72 M179.55,482.49 V484.97 M183.19,484.13 V486.71 M185.59,484.00 V486.95 M189.48,485.65 V488.16 M192.36,485.92 V489.09 M196.28,486.43 V489.98 M200.15,488.22 V491.01 M202.95,490.22 V493.12 M206.87,491.44 V495.18 M209.03,492.70 V495.34 M211.39,493.55 V496.28 M214.35,494.70 V497.92 M216.78,495.58 V497.98 M219.59,495.87 V498.79 M222.75,495.96 V499.69 M226.21,496.62 V499.74 M229.49,496.84 V500.19 M231.42,496.88 V500.54 M235.09,498.07 V501.69 M238.80,499.81 V502.76 M241.56,500.80 V503.35 M244.88,501.78 V504.27 M246.85,502.12 V504.81 M249.04,502.26 V505.14 M250.96,502.84 V505.24 M253.12,503.32 V505.86 M255.80,504.05 V506.49 M259.70,504.63 V507.89 M261.85,505.42 V508.18 M264.49,506.01 V508.92 M266.58,506.08 V509.67 M270.76,506.95 V510.00 M273.73,507.65 V510.17 M275.77,507.76 V510.64 M278.21,507.78 V511.34 M280.39,508.95 V511.38 M284.48,510.17 V513.31 M286.63,511.00 V514.16 M288.49,511.73 V514.87 M292.64,512.30 V515.91 M296.11,513.40 V516.17 M298.79,513.78 V516.41 M302.44,513.94 V517.08 M306.11,514.50 V517.36 M308.45,514.43 V517.96 M312.61,515.17 V518.77 M316.35,515.89 V519.44 M319.92,517.02 V519.73 M322.97,517.66 V520.56 M324.84,518.34 V520.78 M327.31,518.77 V521.53 M330.77,519.12 V522.85 M333.64,519.82 V523.53 M337.81,520.73 V524.46 M340.49,521.79 V524.50 M342.83,522.29 V524.96 M345.12,522.46 V525.73 M349.08,523.12 V526.70 M352.03,523.85 V527.16 M355.75,524.99 V527.51 M359.14,525.11 V528.78 M362.82,526.07 V529.52 M365.76,527.22 V529.87 M369.46,528.29 V531.16 M373.18,528.90 V532.66 M375.93,530.18 V533.15 M380.00,531.99 V535.41 M382.21,533.47 V536.05 M384.37,533.97 V537.63 M388.11,535.73 V538.33 M391.89,536.36 V540.13 M395.27,537.91 V540.80 M398.39,538.69 V541.27" stroke="#1f3f7a" stroke-width="0.9" fill="none"/>
<line x1="404.00" y1="541.60" x2="404.00" y2="545.20" stroke="#1f3f7a" stroke-width="1.1"/>
<line x1="407.00" y1="541.60" x2="407.00" y2="545.20" stroke="#1f3f7a" stroke-width="1.1"/>
<line x1="410.00" y1="541.60" x2="410.00" y2="545.20" stroke="#1f3f7a" stroke-width="1.1"/>
<line x1="413.00" y1="541.60" x2="413.00" y2="545.20" stroke="#1f3f7a" stroke-width="1.1"/>
<line x1="421.50" y1="549.40" x2="421.50" y2="553.00" stroke="#1f3f7a" stroke-width="1.1"/>
<line x1="428.30" y1="549.40" x2="428.30" y2="553.00" stroke="#1f3f7a" stroke-width="1.1"/>
<line x1="436.00" y1="549.40" x2="436.00" y2="553.00" stroke="#1f3f7a" stroke-width="1.1"/>
<line x1="442.70" y1="549.40" x2="442.70" y2="553.00" stroke="#1f3f7a" stroke-width="1.1"/>
</svg>
</body></html>
